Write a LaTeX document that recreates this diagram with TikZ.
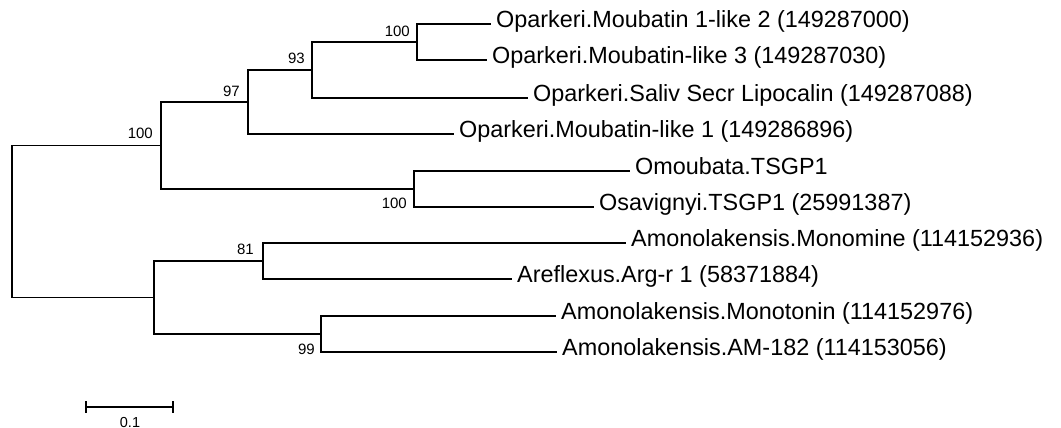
\documentclass[tikz,border=0pt]{standalone}
\usepackage{fontspec}
\setmainfont{Liberation Sans}
\usetikzlibrary{calc}
\begin{document}
\begin{tikzpicture}[x=1pt,y=-1pt,
  branch/.style={line width=1.1pt,line cap=rect},
  leaf/.style={anchor=west,inner xsep=6pt,inner ysep=0pt,
    text height=0.716em,text depth=0pt,
    font=\fontsize{23.4}{27}\selectfont},
  bootup/.style={anchor=base east,inner sep=0pt,font=\fontsize{15}{18}\selectfont},
  bootdown/.style={anchor=north east,inner sep=0pt,font=\fontsize{15}{18}\selectfont},
]
\useasboundingbox (0,0) rectangle (1061,428);

% leaves (west anchor = end of terminal branch)
\node[leaf] (l1)  at (490,24)  {Oparkeri.Moubatin 1-like 2 (149287000)};
\node[leaf] (l2)  at (486,60)  {Oparkeri.Moubatin-like 3 (149287030)};
\node[leaf] (l3)  at (527,98)  {Oparkeri.Saliv Secr Lipocalin (149287088)};
\node[leaf] (l4)  at (453,134) {Oparkeri.Moubatin-like 1 (149286896)};
\node[leaf] (l5)  at (629,171) {Omoubata.TSGP1};
\node[leaf] (l6)  at (593,207) {Osavignyi.TSGP1 (25991387)};
\node[leaf] (l7)  at (625,243) {Amonolakensis.Monomine (114152936)};
\node[leaf] (l8)  at (511,279) {Areflexus.Arg-r 1 (58371884)};
\node[leaf] (l9)  at (555,316) {Amonolakensis.Monotonin (114152976)};
\node[leaf] (l10) at (556,352) {Amonolakensis.AM-182 (114153056)};

% internal nodes
\coordinate (D) at (417,42);
\coordinate (C) at (312,70);
\coordinate (B) at (248,102);
\coordinate (E) at (414,189);
\coordinate (A) at (161,145.5);
\coordinate (G) at (263,261);
\coordinate (H) at (321,334);
\coordinate (F) at (154,297.5);
\coordinate (R) at (12,222);

% branches
\draw[branch] (D) |- (l1.west);
\draw[branch] (D) |- (l2.west);
\draw[branch] (C) |- (D);
\draw[branch] (C) |- (l3.west);
\draw[branch] (B) |- (C);
\draw[branch] (B) |- (l4.west);
\draw[branch] (E) |- (l5.west);
\draw[branch] (E) |- (l6.west);
\draw[branch] (A) |- (B);
\draw[branch] (A) |- (E);
\draw[branch] (G) |- (l7.west);
\draw[branch] (G) |- (l8.west);
\draw[branch] (H) |- (l9.west);
\draw[branch] (H) |- (l10.west);
\draw[branch] (F) |- (G);
\draw[branch] (F) |- (H);
\draw[branch] (R) |- (A);
\draw[branch] (R) |- (F);

% bootstrap values
\node[bootup]   (bD) at ($(D)+(-7,-5)$) {100};
\node[bootup]   (bC) at ($(C)+(-7,-6)$) {93};
\node[bootup]   (bB) at ($(B)+(-8,-6)$) {97};
\node[bootup]   (bA) at ($(A)+(-8,-7)$) {100};
\node[bootdown] (bE) at ($(E)+(-7,9)$) {100};
\node[bootup]   (bG) at ($(G)+(-9,-7)$) {81};
\node[bootdown] (bH) at ($(H)+(-6,10)$) {99};

% scale bar
\coordinate (s1) at (86,407);
\coordinate (s2) at (173,407);
\draw[branch,line cap=butt] (s1) -- (s2);
\draw[branch,line cap=butt] ($(s1)+(0,-6)$) -- ($(s1)+(0,6)$);
\draw[branch,line cap=butt] ($(s2)+(0,-6)$) -- ($(s2)+(0,6)$);
\node[anchor=base,inner sep=0pt,font=\fontsize{14.5}{17}\selectfont] (sl) at (130,427) {0.1};
\end{tikzpicture}
\end{document}
